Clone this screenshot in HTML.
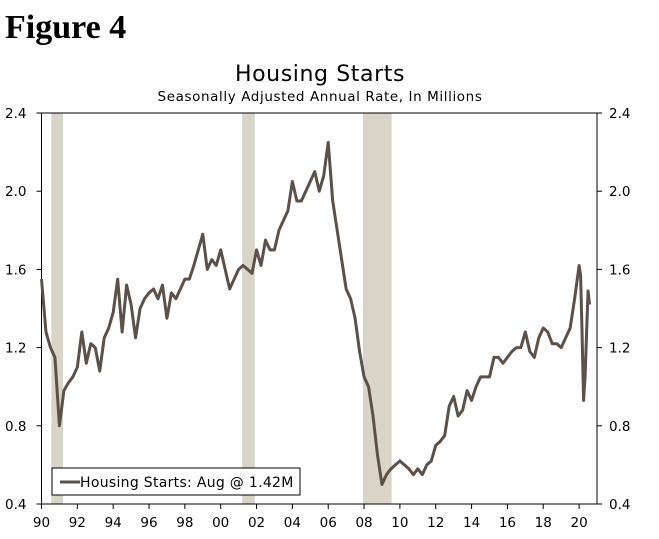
<!DOCTYPE html>
<html><head><meta charset="utf-8"><style>
body{margin:0;background:#fff;width:659px;height:534px;overflow:hidden}
svg text{font-family:"DejaVu Sans","Liberation Sans",sans-serif;fill:#000}
</style></head><body>
<svg id="chart" width="659" height="534">
<text x="5" y="38" style="font-family:'Liberation Serif',serif;font-weight:bold;font-size:34px">Figure 4</text>
<text x="320" y="81" text-anchor="middle" font-size="22" letter-spacing="0.6">Housing Starts</text>
<text x="320" y="101" text-anchor="middle" font-size="13.5" letter-spacing="0.6">Seasonally Adjusted Annual Rate, In Millions</text>
<g id="rec"></g><g id="axes"></g><g id="series"></g>
<g>
<rect x="52" y="468" width="248" height="27" fill="#fff" stroke="#000" stroke-width="1"/>
<line x1="60" y1="482" x2="80" y2="482" stroke="#5c5148" stroke-width="3"/>
<text x="80" y="487" font-size="14" letter-spacing="0.3">Housing Starts: Aug @ 1.42M</text>
</g>
</svg>
<script>
const recStart=[1990.55,2001.2,2007.94];
const recEnd=[1991.2,2001.9,2009.54];
const yTicks=[0.4,0.8,1.2,1.6,2.0,2.4];
const xTickYears=[1990,1992,1994,1996,1998,2000,2002,2004,2006,2008,2010,2012,2014,2016,2018,2020];
const qVals=[1.55,1.28,1.20,1.15, 0.80,0.98,1.02,1.05, 1.10,1.28,1.12,1.22, 1.20,1.08,1.25,1.30,
1.38,1.55,1.28,1.52, 1.42,1.25,1.40,1.45, 1.48,1.50,1.45,1.52, 1.35,1.48,1.45,1.50,
1.55,1.55,1.62,1.70, 1.78,1.60,1.65,1.62, 1.70,1.60,1.50,1.55, 1.60,1.62,1.60,1.58,
1.70,1.62,1.75,1.70, 1.70,1.80,1.85,1.90, 2.05,1.95,1.95,2.00, 2.05,2.10,2.00,2.08,
2.25,1.95,1.80,1.65, 1.50,1.45,1.35,1.18, 1.05,1.00,0.85,0.65, 0.50,0.55,0.58,0.60,
0.62,0.60,0.58,0.55, 0.58,0.55,0.60,0.62, 0.70,0.72,0.75,0.90, 0.95,0.85,0.88,0.98,
0.93,1.00,1.05,1.05, 1.05,1.15,1.15,1.12, 1.15,1.18,1.20,1.20, 1.28,1.18,1.15,1.25,
1.30,1.28,1.22,1.22, 1.20,1.25,1.30,1.45];
const m2020=[1.62,1.57,1.27,0.93,1.05,1.27,1.49,1.42];
const NS="http://www.w3.org/2000/svg";
const L=41.5,R=597,T=113,B=504,x0=1990,ppy=17.92;
const X=y=>L+(y-x0)*ppy, Y=v=>B-(v-0.4)*(B-T)/2.0;
function mk(t,a,p){const e=document.createElementNS(NS,t);for(const k in a)e.setAttribute(k,a[k]);p.appendChild(e);return e;}
const rec=document.getElementById('rec');
recStart.forEach((s,i)=>{const r=mk('rect',{x:X(s),y:T,width:X(recEnd[i])-X(s),height:B-T,fill:'#d8d4c8'},rec);

});
const ax=document.getElementById('axes');
mk('path',{d:`M${L},${T}H${R}V${B}H${L}Z`,fill:'none',stroke:'#000','stroke-width':1},ax);
yTicks.forEach(v=>{mk('line',{x1:L-5,x2:L,y1:Y(v),y2:Y(v),stroke:'#000'},ax);mk('line',{x1:R,x2:R+5,y1:Y(v),y2:Y(v),stroke:'#000'},ax);
const a=mk('text',{x:5,y:Y(v)+5,'font-size':13.5},ax);a.textContent=v.toFixed(1);


const b=mk('text',{x:609,y:Y(v)+5,'font-size':13.5},ax);b.textContent=v.toFixed(1);

});
xTickYears.forEach(y=>{mk('line',{x1:X(y),x2:X(y),y1:B,y2:B+5,stroke:'#000'},ax);
const t=mk('text',{x:X(y),y:527,'font-size':13.5,'text-anchor':'middle'},ax);t.textContent=String(y).slice(2);

});
const pts=[];qVals.forEach((v,i)=>pts.push([X(1990+i*0.25),Y(v)]));
m2020.forEach((v,i)=>pts.push([X(2020+i/12),Y(v)]));
const line=mk('polyline',{points:pts.map(p=>p.join(',')).join(' '),fill:'none',stroke:'#5c5148','stroke-width':3,'stroke-linejoin':'round'},document.getElementById('series'));


</script>
</body></html>
